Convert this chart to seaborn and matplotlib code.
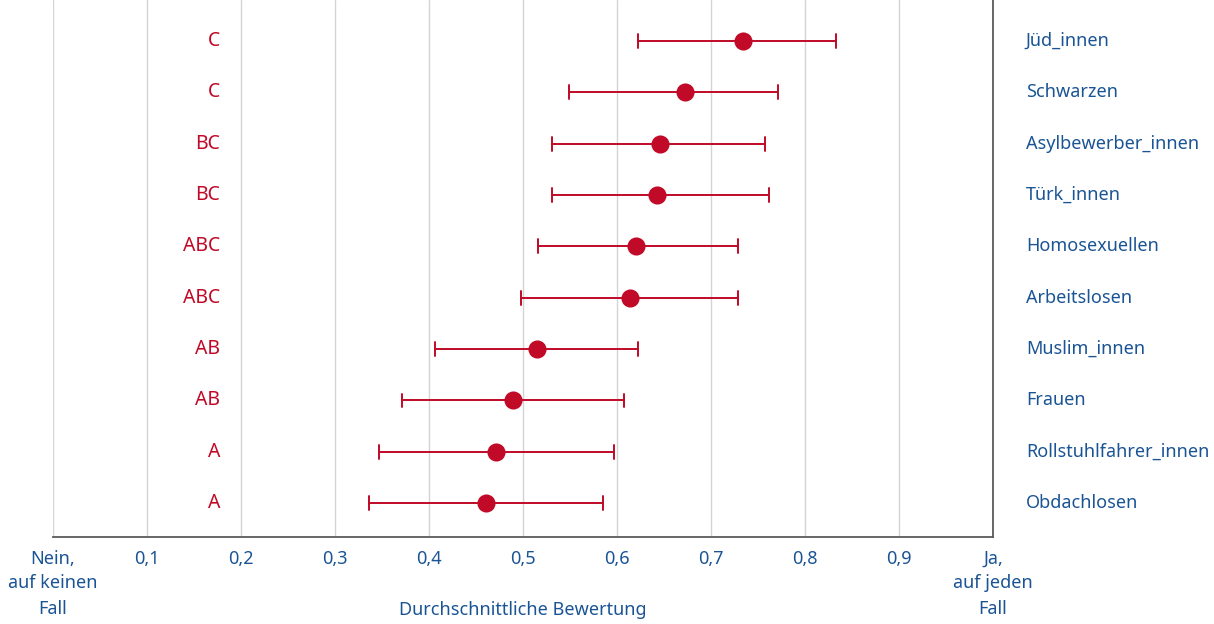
import pandas as pd
import seaborn as sns
import matplotlib.pyplot as plt
import matplotlib.transforms as mtransforms

RED = '#c00a27'
BLUE = '#1a5494'

groups = ['Jüd_innen', 'Schwarzen', 'Asylbewerber_innen', 'Türk_innen', 'Homosexuellen',
          'Arbeitslosen', 'Muslim_innen', 'Frauen', 'Rollstuhlfahrer_innen', 'Obdachlosen']
means = [0.734, 0.672, 0.646, 0.643, 0.620, 0.614, 0.515, 0.489, 0.471, 0.461]
lower = [0.622, 0.549, 0.531, 0.531, 0.516, 0.498, 0.406, 0.371, 0.347, 0.336]
upper = [0.833, 0.771, 0.757, 0.762, 0.729, 0.729, 0.622, 0.607, 0.597, 0.585]
letters = ['C', 'C', 'BC', 'BC', 'ABC', 'ABC', 'AB', 'AB', 'A', 'A']

tick_vals = [0, 0.1, 0.2, 0.3, 0.4, 0.5, 0.6, 0.7, 0.8, 0.9, 1.0]
tick_labels = ['Nein,\nauf keinen\nFall', '0,1', '0,2', '0,3', '0,4', '0,5', '0,6',
               '0,7', '0,8', '0,9', 'Ja,\nauf jeden\nFall']

# long table: lower, mean, upper per group -> median = mean, 100% interval = CI
rows = []
for g, lo, m, hi in zip(groups, lower, means, upper):
    for v in (lo, m, hi):
        rows.append({'group': g, 'value': v})
df = pd.DataFrame(rows)

sns.set_style('white')
plt.rcParams['font.family'] = ['Noto Sans', 'DejaVu Sans']

fig = plt.figure(figsize=(12.14, 6.24), dpi=100)
ax = fig.add_axes([53 / 1214, 1 - 537 / 624, 940 / 1214, 537 / 624])

sns.pointplot(data=df, x='value', y='group', order=groups, estimator='median',
              errorbar=('pi', 100), color=RED, markers='o', linestyle='none',
              markersize=11, capsize=0.27, err_kws={'linewidth': 1.4}, ax=ax)

ax.set_xlim(0, 1)
ax.set_ylim(len(groups) - 1 + 0.66, -0.8)
ax.set_xticks(tick_vals)
ax.set_xticklabels(tick_labels, fontsize=13, color=BLUE)
for t in ax.get_xticklabels():
    t.set_linespacing(1.5)
ax.tick_params(axis='x', length=0, pad=9)
ax.set_yticks([])
ax.set_xlabel('')
ax.set_ylabel('')
ax.grid(axis='x', color='#d4d4d4', linewidth=1)
ax.set_axisbelow(True)

for side in ('top', 'left'):
    ax.spines[side].set_visible(False)
for side in ('bottom', 'right'):
    ax.spines[side].set_color('#5a5a5a')
    ax.spines[side].set_linewidth(1.3)

trans = mtransforms.blended_transform_factory(ax.transAxes, ax.transData)
for i, (g, let) in enumerate(zip(groups, letters)):
    ax.text(0.178, i, let, ha='right', va='center', fontsize=14, color=RED)
    ax.text(1.035, i, g, ha='left', va='center', fontsize=13, color=BLUE, transform=trans)

fig.text(523 / 1214, 1 - 610 / 624, 'Durchschnittliche Bewertung', ha='center', va='center',
         fontsize=13, color=BLUE)

fig.savefig('out.png', dpi=100)
